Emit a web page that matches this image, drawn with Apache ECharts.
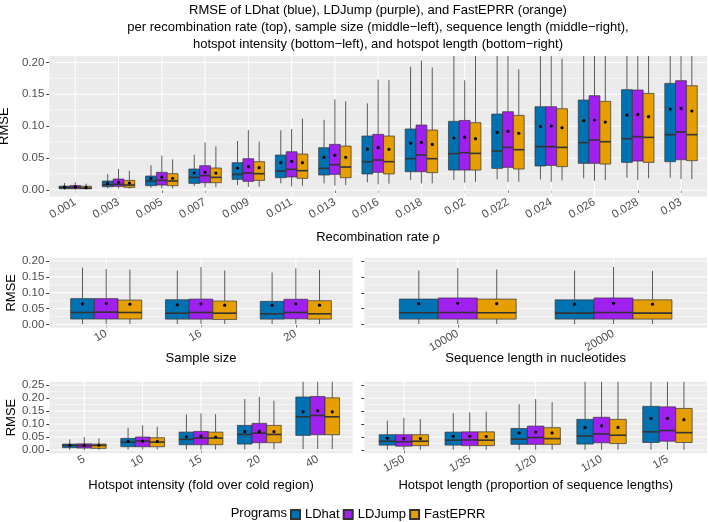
<!DOCTYPE html>
<html>
<head>
<meta charset="utf-8">
<script src="https://cdn.jsdelivr.net/npm/echarts@6/dist/echarts.min.js"></script>
<style>
  html, body { margin: 0; padding: 0; background: #fff; }
  #chart { width: 709px; height: 522px; }
</style>
</head>
<body>
<div id="chart"></div>
<script>
var programs = ['LDhat', 'LDJump', 'FastEPRR'];
var programColors = ['#0072B2', '#A020F0', '#E69F00'];

// every box: [whisker low, Q1, median, Q3, whisker high, mean]
var rateCats = ['0.001', '0.003', '0.005', '0.007', '0.009', '0.011', '0.013', '0.016',
  '0.018', '0.02', '0.022', '0.024', '0.026', '0.028', '0.03'];
var rateLDhat = [
  [0.0005, 0.002, 0.004, 0.006, 0.011, 0.0045],
  [0.0026, 0.0052, 0.0084, 0.0141, 0.025, 0.0104],
  [0.0037, 0.0068, 0.0141, 0.0219, 0.039, 0.0183],
  [0.0063, 0.0104, 0.0198, 0.0329, 0.055, 0.0266],
  [0.0078, 0.0167, 0.0245, 0.0428, 0.0768, 0.0345],
  [0.0104, 0.0193, 0.0298, 0.0548, 0.0935, 0.0428],
  [0.0104, 0.0235, 0.0339, 0.0663, 0.110, 0.0512],
  [0.012, 0.0251, 0.0444, 0.0846, 0.1358, 0.0642],
  [0.0157, 0.0287, 0.0491, 0.0956, 0.193, 0.0731],
  [0.0157, 0.0313, 0.0569, 0.1076, 0.23, 0.0815],
  [0.0167, 0.0339, 0.0611, 0.119, 0.23, 0.0903],
  [0.0167, 0.0376, 0.0679, 0.1305, 0.23, 0.0997],
  [0.0183, 0.0418, 0.0742, 0.141, 0.23, 0.1086],
  [0.0193, 0.0433, 0.0804, 0.1572, 0.23, 0.1175],
  [0.0193, 0.0444, 0.0867, 0.1671, 0.23, 0.1269]
];
var rateLDJump = [
  [0.0005, 0.002, 0.004, 0.007, 0.012, 0.005],
  [0.0026, 0.0057, 0.0089, 0.0172, 0.033, 0.0125],
  [0.0026, 0.0078, 0.0151, 0.0277, 0.054, 0.0204],
  [0.0042, 0.0115, 0.0225, 0.0381, 0.0747, 0.0277],
  [0.0047, 0.0136, 0.0266, 0.0491, 0.094, 0.0366],
  [0.0057, 0.0204, 0.0324, 0.060, 0.0956, 0.0449],
  [0.0068, 0.0245, 0.0397, 0.0715, 0.142, 0.0543],
  [0.0089, 0.0277, 0.047, 0.0872, 0.173, 0.0663],
  [0.0104, 0.0287, 0.0548, 0.1018, 0.203, 0.0747],
  [0.0115, 0.0313, 0.0585, 0.109, 0.172, 0.083],
  [0.0125, 0.0355, 0.0668, 0.1227, 0.23, 0.0919],
  [0.013, 0.0386, 0.0679, 0.1305, 0.23, 0.1003],
  [0.0146, 0.0418, 0.0783, 0.1478, 0.23, 0.1097],
  [0.0157, 0.0454, 0.0836, 0.1567, 0.23, 0.1185],
  [0.0172, 0.0475, 0.0909, 0.1713, 0.23, 0.128]
];
var rateFastEPRR = [
  [0.0005, 0.002, 0.003, 0.006, 0.010, 0.004],
  [0.002, 0.0042, 0.0078, 0.0151, 0.030, 0.011],
  [0.0026, 0.0068, 0.0141, 0.0256, 0.048, 0.0183],
  [0.0047, 0.0115, 0.0198, 0.0345, 0.0684, 0.0266],
  [0.0052, 0.0151, 0.0256, 0.0444, 0.0757, 0.035],
  [0.0068, 0.0183, 0.0303, 0.0564, 0.112, 0.0428],
  [0.0078, 0.0193, 0.036, 0.0689, 0.139, 0.0512],
  [0.0099, 0.0251, 0.0444, 0.0846, 0.172, 0.0637],
  [0.0104, 0.0272, 0.0491, 0.094, 0.192, 0.0715],
  [0.013, 0.0313, 0.0574, 0.1055, 0.23, 0.0804],
  [0.013, 0.0329, 0.0632, 0.117, 0.189, 0.0888],
  [0.0151, 0.0366, 0.0668, 0.1274, 0.206, 0.0976],
  [0.0157, 0.0407, 0.0757, 0.1389, 0.23, 0.1065],
  [0.0183, 0.0433, 0.0825, 0.1514, 0.23, 0.1149],
  [0.0172, 0.046, 0.0867, 0.1634, 0.23, 0.1238]
];

var sampleCats = ['10', '16', '20'];
var sampleLDhat = [
  [0.002, 0.0173, 0.0378, 0.0815, 0.179, 0.0653],
  [0.002, 0.017, 0.0357, 0.078, 0.170, 0.062],
  [0.002, 0.017, 0.0337, 0.073, 0.164, 0.061]
];
var sampleLDJump = [
  [0.002, 0.0173, 0.039, 0.0815, 0.175, 0.066],
  [0.002, 0.017, 0.038, 0.080, 0.181, 0.065],
  [0.002, 0.018, 0.038, 0.0795, 0.177, 0.065]
];
var sampleFastEPRR = [
  [0.002, 0.0173, 0.0378, 0.077, 0.173, 0.064],
  [0.002, 0.016, 0.0357, 0.074, 0.170, 0.061],
  [0.002, 0.017, 0.0337, 0.075, 0.172, 0.061]
];

var lengthCats = ['10000', '20000'];
var lengthLDhat = [
  [0.002, 0.017, 0.037, 0.080, 0.170, 0.0656],
  [0.002, 0.017, 0.036, 0.0776, 0.170, 0.064]
];
var lengthLDJump = [
  [0.002, 0.017, 0.038, 0.0836, 0.178, 0.0668],
  [0.002, 0.017, 0.038, 0.0836, 0.181, 0.0668]
];
var lengthFastEPRR = [
  [0.002, 0.017, 0.037, 0.080, 0.173, 0.0656],
  [0.002, 0.017, 0.036, 0.0776, 0.169, 0.064]
];

var intensityCats = ['5', '10', '15', '20', '40'];
var intensityLDhat = [
  [0.0005, 0.009, 0.018, 0.023, 0.041, 0.018],
  [0.002, 0.0128, 0.0308, 0.0449, 0.086, 0.033],
  [0.002, 0.0205, 0.041, 0.069, 0.137, 0.051],
  [0.002, 0.023, 0.060, 0.095, 0.196, 0.0705],
  [0.004, 0.0564, 0.128, 0.204, 0.28, 0.147]
];
var intensityLDJump = [
  [0.0005, 0.0077, 0.0167, 0.024, 0.05, 0.018],
  [0.002, 0.0128, 0.0346, 0.05, 0.095, 0.0346],
  [0.002, 0.0205, 0.046, 0.0718, 0.141, 0.0538],
  [0.003, 0.0282, 0.065, 0.1026, 0.205, 0.0718],
  [0.004, 0.059, 0.133, 0.206, 0.28, 0.151]
];
var intensityFastEPRR = [
  [0.0005, 0.0064, 0.018, 0.023, 0.045, 0.018],
  [0.002, 0.0128, 0.0308, 0.0474, 0.0897, 0.033],
  [0.002, 0.0205, 0.046, 0.069, 0.138, 0.05],
  [0.003, 0.0282, 0.060, 0.095, 0.19, 0.0705],
  [0.004, 0.059, 0.128, 0.201, 0.28, 0.147]
];

var hotLenCats = ['1/50', '1/35', '1/20', '1/10', '1/5'];
var hotLenLDhat = [
  [0.001, 0.019, 0.034, 0.059, 0.113, 0.045],
  [0.001, 0.019, 0.038, 0.069, 0.142, 0.053],
  [0.001, 0.022, 0.042, 0.083, 0.176, 0.066],
  [0.001, 0.023, 0.054, 0.118, 0.28, 0.087],
  [0.001, 0.029, 0.070, 0.168, 0.28, 0.122]
];
var hotLenLDJump = [
  [0.001, 0.015, 0.032, 0.059, 0.124, 0.044],
  [0.001, 0.017, 0.039, 0.070, 0.145, 0.053],
  [0.001, 0.022, 0.048, 0.092, 0.196, 0.069],
  [0.001, 0.028, 0.062, 0.126, 0.28, 0.093],
  [0.001, 0.034, 0.075, 0.166, 0.28, 0.122]
];
var hotLenFastEPRR = [
  [0.001, 0.017, 0.034, 0.059, 0.119, 0.044],
  [0.001, 0.017, 0.038, 0.070, 0.148, 0.052],
  [0.001, 0.022, 0.044, 0.086, 0.184, 0.066],
  [0.001, 0.025, 0.057, 0.118, 0.28, 0.087],
  [0.001, 0.029, 0.067, 0.160, 0.28, 0.117]
];

var yTicks20 = [0, 0.05, 0.10, 0.15, 0.20];
var yTicks25 = [0, 0.05, 0.10, 0.15, 0.20, 0.25];

var FONT = '"Liberation Sans", Arial, sans-serif';

// facet layout, ggplot-like (discrete axes padded by 0.6 units)
var panels = [
  { cats: rateCats, data: [rateLDhat, rateLDJump, rateFastEPRR], ticks: yTicks20, ymin: -0.01, ymax: 0.21,
    left: 49.3, top: 56, width: 657.7, height: 140.4, yLabels: true },
  { cats: sampleCats, data: [sampleLDhat, sampleLDJump, sampleFastEPRR], ticks: yTicks20, ymin: -0.01, ymax: 0.21,
    left: 49.3, top: 257.8, width: 303.4, height: 69.9, yLabels: true },
  { cats: lengthCats, data: [lengthLDhat, lengthLDJump, lengthFastEPRR], ticks: yTicks20, ymin: -0.01, ymax: 0.21,
    left: 364.3, top: 257.8, width: 342.7, height: 69.9, yLabels: false },
  { cats: intensityCats, data: [intensityLDhat, intensityLDJump, intensityFastEPRR], ticks: yTicks25, ymin: -0.0125, ymax: 0.2625,
    left: 49.3, top: 381.8, width: 303.4, height: 71.5, yLabels: true },
  { cats: hotLenCats, data: [hotLenLDhat, hotLenLDJump, hotLenFastEPRR], ticks: yTicks25, ymin: -0.0125, ymax: 0.2625,
    left: 364.3, top: 381.8, width: 342.7, height: 71.5, yLabels: false }
];

function positions(cats) {
  return cats.map(function (c, i) { return i + 1; });
}

function gridRenderer(p) {
  return function (params, api) {
    var cs = params.coordSys;
    var kids = [];
    var minor = [];
    for (var i = 0; i < p.ticks.length - 1; i++) minor.push((p.ticks[i] + p.ticks[i + 1]) / 2);
    minor.forEach(function (v) {
      var y = api.coord([1, v])[1];
      kids.push({ type: 'line', shape: { x1: cs.x, y1: y, x2: cs.x + cs.width, y2: y }, style: { stroke: '#fff', lineWidth: 0.5 } });
    });
    p.ticks.forEach(function (v) {
      var y = api.coord([1, v])[1];
      kids.push({ type: 'line', shape: { x1: cs.x, y1: y, x2: cs.x + cs.width, y2: y }, style: { stroke: '#fff', lineWidth: 1 } });
    });
    positions(p.cats).forEach(function (c) {
      var x = api.coord([c, 0])[0];
      kids.push({ type: 'line', shape: { x1: x, y1: cs.y, x2: x, y2: cs.y + cs.height }, style: { stroke: '#fff', lineWidth: 1 } });
    });
    return { type: 'group', silent: true, children: kids };
  };
}

function boxRenderer(offset, color) {
  return function (params, api) {
    var cs = params.coordSys;
    var x = api.value(0) + offset;
    var half = api.size([0.125, 0])[0];
    var px = api.coord([x, 0])[0];
    function py(v) {
      var y = api.coord([x, v])[1];
      return Math.max(cs.y, Math.min(cs.y + cs.height, y));
    }
    var yLow = py(api.value(1)), yQ1 = py(api.value(2)), yMed = py(api.value(3));
    var yQ3 = py(api.value(4)), yHigh = py(api.value(5)), yMean = py(api.value(6));
    return {
      type: 'group',
      children: [
        { type: 'line', shape: { x1: px, y1: yHigh, x2: px, y2: yQ3 }, style: { stroke: '#5a5a5a', lineWidth: 1 } },
        { type: 'line', shape: { x1: px, y1: yQ1, x2: px, y2: yLow }, style: { stroke: '#5a5a5a', lineWidth: 1 } },
        { type: 'rect', shape: { x: px - half, y: yQ3, width: half * 2, height: Math.max(yQ1 - yQ3, 0.5) },
          style: { fill: color, stroke: '#333', lineWidth: 0.7 } },
        { type: 'line', shape: { x1: px - half, y1: yMed, x2: px + half, y2: yMed }, style: { stroke: '#333', lineWidth: 1.6 } },
        { type: 'circle', shape: { cx: px, cy: yMean, r: 1.6 }, style: { fill: '#000' } }
      ]
    };
  };
}

var grids = [], xAxes = [], yAxes = [], series = [];
panels.forEach(function (p, gi) {
  grids.push({ left: p.left, top: p.top, width: p.width, height: p.height, show: true,
    backgroundColor: '#EBEBEB', borderWidth: 0, outerBoundsMode: 'none', containLabel: false });
  var pos = positions(p.cats);
  xAxes.push({
    type: 'value', gridIndex: gi, min: 0.4, max: p.cats.length + 0.6,
    axisLine: { show: false }, splitLine: { show: false },
    axisTick: { show: true, customValues: pos, length: 3, lineStyle: { color: '#333', width: 1 } },
    axisLabel: { show: true, customValues: pos, rotate: 30, margin: 5, color: '#4D4D4D', fontSize: 11.5, fontFamily: FONT,
      formatter: function (v) { return p.cats[Math.round(v) - 1] || ''; } }
  });
  yAxes.push({
    type: 'value', gridIndex: gi, min: p.ymin, max: p.ymax,
    axisLine: { show: false }, splitLine: { show: false },
    axisTick: { show: true, customValues: p.ticks, length: 3, lineStyle: { color: '#333', width: 1 } },
    axisLabel: { show: p.yLabels, customValues: p.ticks, margin: 5, color: '#4D4D4D', fontSize: 11.5, fontFamily: FONT,
      formatter: function (v) { return v.toFixed(2); } },
    name: p.yLabels ? 'RMSE' : '', nameLocation: 'middle', nameRotate: 90, nameGap: 29,
    nameTextStyle: { color: '#000', fontSize: 13, fontFamily: FONT }
  });
  series.push({
    type: 'custom', name: 'panel' + gi, xAxisIndex: gi, yAxisIndex: gi, silent: true, z: 1,
    data: [[1]], renderItem: gridRenderer(p)
  });
  programs.forEach(function (name, k) {
    series.push({
      type: 'custom', name: name, xAxisIndex: gi, yAxisIndex: gi, z: 2,
      itemStyle: { color: programColors[k], borderColor: '#333', borderWidth: 0.7 },
      data: p.data[k].map(function (b, i) { return [pos[i]].concat(b); }),
      renderItem: boxRenderer((k - 1) * 0.25, programColors[k])
    });
  });
});

var titleStyle = { fontSize: 13, fill: '#000', fontFamily: FONT, align: 'center', verticalAlign: 'middle' };
function label(text, x, y) {
  return { type: 'text', x: x, y: y, style: Object.assign({ text: text }, titleStyle) };
}

var chart = echarts.init(document.getElementById('chart'), null, { renderer: 'canvas' });
chart.setOption({
  animation: false,
  backgroundColor: '#fff',
  grid: grids,
  xAxis: xAxes,
  yAxis: yAxes,
  legend: {
    data: programs, left: 290, top: 508, orient: 'horizontal', icon: 'rect',
    itemWidth: 9, itemHeight: 9, itemGap: 3, padding: 0,
    textStyle: { fontSize: 13, color: '#000', fontFamily: FONT }
  },
  graphic: [
    label('RMSE of LDhat (blue), LDJump (purple), and FastEPRR (orange)', 378, 10),
    label('per recombination rate (top), sample size (middle\u2212left), sequence length (middle\u2212right),', 378, 27),
    label('hotspot intensity (bottom\u2212left), and hotspot length (bottom\u2212right)', 378, 44),
    label('Recombination rate \u03c1', 378, 237),
    label('Sample size', 201, 358),
    label('Sequence length in nucleotides', 535.7, 358),
    label('Hotspot intensity (fold over cold region)', 201, 485),
    label('Hotspot length (proportion of sequence lengths)', 535.7, 485),
    { type: 'text', x: 287, y: 513, style: { text: 'Programs', fontSize: 13, fill: '#000', fontFamily: FONT, align: 'right', verticalAlign: 'middle' } }
  ],
  series: series
});
</script>
</body>
</html>
